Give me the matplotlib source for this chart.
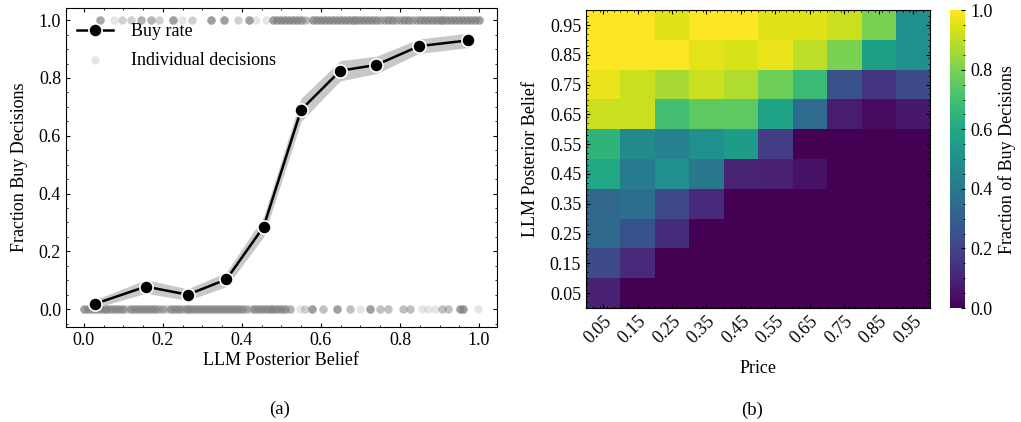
import numpy as np
import matplotlib.pyplot as plt
from matplotlib.ticker import MultipleLocator, AutoMinorLocator

plt.rcParams['font.family'] = ['Liberation Serif', 'DejaVu Serif']
plt.rcParams['font.size'] = 13
plt.rcParams['xtick.direction'] = 'in'
plt.rcParams['ytick.direction'] = 'in'
plt.rcParams['xtick.top'] = True
plt.rcParams['ytick.right'] = True
plt.rcParams['xtick.minor.visible'] = True
plt.rcParams['ytick.minor.visible'] = True
plt.rcParams['xtick.major.size'] = 3
plt.rcParams['ytick.major.size'] = 3
plt.rcParams['xtick.minor.size'] = 1.5
plt.rcParams['ytick.minor.size'] = 1.5

# binned buy rate
belief_bins = [0.028, 0.157, 0.263, 0.361, 0.455, 0.55, 0.649, 0.74, 0.848, 0.972]
buy_rate = [0.018, 0.078, 0.05, 0.103, 0.285, 0.69, 0.825, 0.845, 0.91, 0.93]
ci_low = [0.004, 0.055, 0.03, 0.078, 0.25, 0.65, 0.79, 0.815, 0.885, 0.905]
ci_high = [0.032, 0.102, 0.07, 0.128, 0.32, 0.73, 0.86, 0.875, 0.935, 0.955]

# individual decisions (belief value, count)
buy_x = [0.04, 0.076, 0.096, 0.12, 0.146, 0.17, 0.19, 0.227, 0.248, 0.273,
         0.323, 0.354, 0.39, 0.417, 0.437, 0.462,
         0.48, 0.49, 0.50, 0.51, 0.52, 0.53, 0.54, 0.55, 0.56, 0.57, 0.58,
         0.59, 0.60, 0.61, 0.62, 0.63, 0.64, 0.65, 0.66, 0.67, 0.68, 0.69,
         0.70, 0.71, 0.72, 0.73, 0.74, 0.75, 0.76, 0.77, 0.78, 0.79, 0.80,
         0.81, 0.82, 0.83, 0.84, 0.85, 0.86, 0.87, 0.88, 0.89, 0.90, 0.91,
         0.92, 0.93, 0.94, 0.95, 0.96, 0.97, 0.98, 0.99, 1.0]
buy_n = [5, 1, 2, 2, 4, 4, 2, 6, 1, 2,
         6, 6, 2, 6, 1, 1,
         6, 6, 6, 6, 6, 6, 6, 6, 3, 1, 6,
         6, 6, 6, 6, 6, 6, 6, 6, 6, 6, 6,
         6, 6, 6, 6, 6, 4, 4, 6, 6, 4, 4,
         6, 6, 4, 4, 6, 6, 6, 6, 6, 6, 6,
         6, 6, 6, 6, 6, 6, 6, 6, 6]
nobuy_x = [0.00, 0.01, 0.02, 0.03, 0.04, 0.05, 0.06, 0.07, 0.08, 0.09, 0.10,
           0.11, 0.12, 0.13, 0.14, 0.15, 0.16, 0.17, 0.18, 0.19, 0.20, 0.21,
           0.22, 0.23, 0.24, 0.25, 0.26, 0.27, 0.28, 0.29, 0.30, 0.31, 0.32,
           0.33, 0.34, 0.35, 0.36, 0.37, 0.38, 0.39, 0.40, 0.41, 0.42, 0.43,
           0.44, 0.45, 0.46, 0.47, 0.48, 0.49, 0.50, 0.51, 0.523,
           0.548, 0.56, 0.578, 0.606, 0.641, 0.674, 0.699, 0.725, 0.75, 0.77,
           0.808, 0.826, 0.856, 0.871, 0.889, 0.907, 0.922, 0.952, 0.96, 0.997]
nobuy_n = [6, 6, 6, 6, 6, 6, 6, 6, 6, 6, 6,
           2, 6, 6, 6, 6, 6, 6, 6, 4, 4, 2,
           6, 6, 6, 4, 6, 6, 6, 6, 6, 6, 6,
           6, 6, 6, 6, 6, 6, 6, 6, 4, 2, 6,
           6, 6, 6, 6, 6, 6, 6, 6, 4,
           1, 2, 6, 3, 6, 3, 1, 6, 3, 3,
           3, 3, 1, 1, 1, 3, 3, 6, 6, 1]

# heatmap: rows = belief 0.05 (bottom) .. 0.95 (top), cols = price 0.05 .. 0.95
ticks = ['0.05', '0.15', '0.25', '0.35', '0.45', '0.55', '0.65', '0.75', '0.85', '0.95']
grid = [
    [0.09, 0, 0, 0, 0, 0, 0, 0, 0, 0],
    [0.23, 0.12, 0, 0, 0, 0, 0, 0, 0, 0],
    [0.34, 0.25, 0.13, 0, 0, 0, 0, 0, 0, 0],
    [0.33, 0.36, 0.22, 0.12, 0, 0, 0, 0, 0, 0],
    [0.60, 0.41, 0.50, 0.40, 0.10, 0.09, 0.05, 0, 0, 0],
    [0.65, 0.47, 0.44, 0.50, 0.55, 0.18, 0, 0, 0, 0],
    [0.92, 0.92, 0.70, 0.75, 0.75, 0.58, 0.35, 0.08, 0.03, 0.07],
    [0.97, 0.92, 0.87, 0.92, 0.88, 0.78, 0.68, 0.25, 0.15, 0.23],
    [1.0, 1.0, 1.0, 0.96, 0.94, 0.97, 0.90, 0.80, 0.57, 0.50],
    [1.0, 1.0, 0.95, 1.0, 1.0, 0.95, 0.95, 0.92, 0.80, 0.50],
]

fig = plt.figure(figsize=(10.21, 4.22), dpi=100)

ax1 = fig.add_axes([0.0646, 0.225, 0.422, 0.756])
xs = np.concatenate([np.repeat(buy_x, buy_n), np.repeat(nobuy_x, nobuy_n)])
ys = np.concatenate([np.ones(sum(buy_n)), np.zeros(sum(nobuy_n))])
ax1.scatter(xs, ys, s=36, color='gray', alpha=0.2, linewidths=0,
            label='Individual decisions', zorder=1)
ax1.fill_between(belief_bins, ci_low, ci_high, color='#c8c8c8', lw=0, zorder=2)
ax1.plot(belief_bins, buy_rate, color='black', lw=1.8, marker='o', ms=9.5,
         mec='white', mew=1.2, label='Buy rate', zorder=3)
ax1.set_xlim(-0.045, 1.045)
ax1.set_ylim(-0.062, 1.042)
ax1.xaxis.set_major_locator(MultipleLocator(0.2))
ax1.yaxis.set_major_locator(MultipleLocator(0.2))
ax1.xaxis.set_minor_locator(AutoMinorLocator(4))
ax1.yaxis.set_minor_locator(AutoMinorLocator(4))
ax1.set_xlabel('LLM Posterior Belief', labelpad=2)
ax1.set_ylabel('Fraction Buy Decisions', labelpad=8)
h, l = ax1.get_legend_handles_labels()
ax1.legend(h[::-1], l[::-1], loc='upper left', frameon=False,
           bbox_to_anchor=(-0.012, 1.004), handlelength=2, handletextpad=1.0,
           labelspacing=0.65)

ax2 = fig.add_axes([0.574, 0.270, 0.337, 0.706])
im = ax2.imshow(np.array(grid), origin='lower', cmap='viridis', vmin=0, vmax=1,
                extent=[0, 1, 0, 1], aspect='auto')
centers = [0.05, 0.15, 0.25, 0.35, 0.45, 0.55, 0.65, 0.75, 0.85, 0.95]
ax2.set_xticks(centers)
ax2.set_xticklabels(ticks, rotation=45, ha='right', rotation_mode='anchor')
ax2.set_yticks(centers)
ax2.set_yticklabels(ticks)
ax2.xaxis.set_minor_locator(MultipleLocator(0.02))
ax2.yaxis.set_minor_locator(MultipleLocator(0.02))
ax2.set_xlabel('Price', labelpad=9)
ax2.set_ylabel('LLM Posterior Belief', labelpad=8)

cax = fig.add_axes([0.9305, 0.270, 0.0147, 0.706])
cb = fig.colorbar(im, cax=cax)
cb.set_label('Fraction of Buy Decisions')
cb.set_ticks([0, 0.2, 0.4, 0.6, 0.8, 1.0])
cax.yaxis.set_minor_locator(MultipleLocator(0.05))
cb.outline.set_visible(False)

fig.text(0.274, 0.031, '(a)', ha='center', va='center', fontsize=13.5)
fig.text(0.737, 0.028, '(b)', ha='center', va='center', fontsize=13.5)

fig.savefig('out.png', dpi=100)
